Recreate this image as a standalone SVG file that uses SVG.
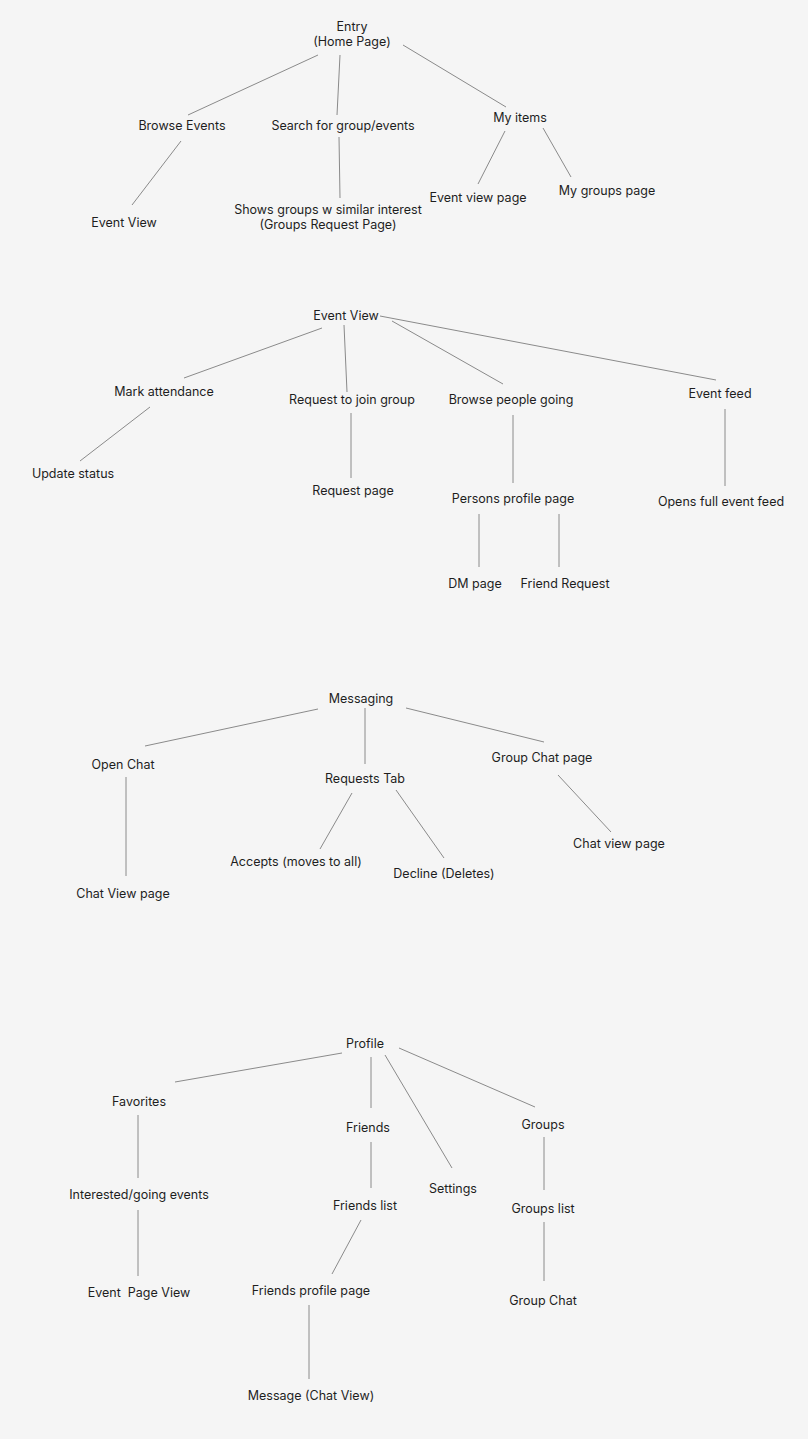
<svg xmlns="http://www.w3.org/2000/svg" width="808" height="1439" viewBox="0 0 808 1439">
<style>
text{font-family:Inter,"Liberation Sans",sans-serif;font-size:12.5px;fill:#1e1e1e;text-anchor:middle;white-space:pre}
line{stroke:#8a8a8a;stroke-width:1}
</style>
<rect width="808" height="1439" fill="#f5f5f5"/>
<g id="connectors">
<line x1="318" y1="55" x2="188" y2="115"/><line x1="340" y1="55" x2="337" y2="115"/><line x1="403" y1="45" x2="506" y2="107"/>
<line x1="181" y1="141" x2="132" y2="205"/><line x1="339" y1="137" x2="340" y2="198"/>
<line x1="505" y1="131" x2="478" y2="184"/><line x1="543" y1="128" x2="571" y2="177"/>
<line x1="322" y1="328" x2="184" y2="378"/><line x1="344" y1="325" x2="347" y2="392"/><line x1="392" y1="321" x2="503" y2="384"/><line x1="380" y1="316" x2="716" y2="380"/>
<line x1="150" y1="407" x2="80" y2="461"/><line x1="351" y1="413" x2="351" y2="478"/><line x1="513" y1="415" x2="513" y2="483"/>
<line x1="479" y1="514" x2="479" y2="567"/><line x1="559" y1="514" x2="559" y2="567"/><line x1="725" y1="409" x2="725" y2="486"/>
<line x1="318" y1="709" x2="145" y2="746"/><line x1="365" y1="708" x2="365" y2="764"/><line x1="406" y1="708" x2="544" y2="742"/>
<line x1="126" y1="777" x2="126" y2="876"/><line x1="352" y1="793" x2="320" y2="849"/><line x1="396" y1="790" x2="444" y2="858"/><line x1="558" y1="775" x2="611" y2="832"/>
<line x1="342" y1="1053" x2="175" y2="1082"/><line x1="371" y1="1057" x2="371" y2="1108"/><line x1="385" y1="1055" x2="452" y2="1168"/><line x1="399" y1="1048" x2="535" y2="1107"/>
<line x1="138" y1="1115" x2="138" y2="1178"/><line x1="138" y1="1210" x2="138" y2="1276"/><line x1="371" y1="1142" x2="371" y2="1188"/>
<line x1="361" y1="1220" x2="332" y2="1274"/><line x1="309" y1="1305" x2="309" y2="1379"/><line x1="544" y1="1137" x2="544" y2="1190"/><line x1="544" y1="1222" x2="544" y2="1281"/>
</g>
<g id="entry"><text x="352" y="31">Entry</text><text x="352" y="46">(Home Page)</text></g>
<g id="browse-events"><text x="182" y="130">Browse Events</text></g>
<g id="search"><text x="343" y="130">Search for group/events</text></g>
<g id="my-items"><text x="520" y="122">My items</text></g>
<g id="event-view-1"><text x="124" y="227">Event View</text></g>
<g id="shows-groups"><text x="328" y="214">Shows groups w similar interest</text><text x="328" y="229">(Groups Request Page)</text></g>
<g id="event-view-page"><text x="478" y="202">Event view page</text></g>
<g id="my-groups-page"><text x="607" y="195">My groups page</text></g>
<g id="event-view"><text x="346" y="320">Event View</text></g>
<g id="mark-attendance"><text x="164" y="396">Mark attendance</text></g>
<g id="request-join"><text x="352" y="404">Request to join group</text></g>
<g id="browse-people"><text x="511" y="404">Browse people going</text></g>
<g id="event-feed"><text x="720" y="398">Event feed</text></g>
<g id="update-status"><text x="73" y="478">Update status</text></g>
<g id="request-page"><text x="353" y="495">Request page</text></g>
<g id="persons-profile"><text x="513" y="503">Persons profile page</text></g>
<g id="dm-page"><text x="475" y="588">DM page</text></g>
<g id="friend-request"><text x="565" y="588">Friend Request</text></g>
<g id="opens-feed"><text x="721" y="506">Opens full event feed</text></g>
<g id="messaging"><text x="361" y="703">Messaging</text></g>
<g id="open-chat"><text x="123" y="769">Open Chat</text></g>
<g id="requests-tab"><text x="365" y="783">Requests Tab</text></g>
<g id="group-chat-page"><text x="542" y="762">Group Chat page</text></g>
<g id="chat-view-page-1"><text x="123" y="898">Chat View page</text></g>
<g id="accepts"><text x="296" y="866">Accepts (moves to all)</text></g>
<g id="decline"><text x="444" y="878">Decline (Deletes)</text></g>
<g id="chat-view-page-2"><text x="619" y="848">Chat view page</text></g>
<g id="profile"><text x="365" y="1048">Profile</text></g>
<g id="favorites"><text x="139" y="1106">Favorites</text></g>
<g id="friends"><text x="368" y="1132">Friends</text></g>
<g id="settings"><text x="453" y="1193">Settings</text></g>
<g id="groups"><text x="543" y="1129">Groups</text></g>
<g id="interested"><text x="139" y="1199">Interested/going events</text></g>
<g id="event-page-view"><text x="139" y="1297">Event  Page View</text></g>
<g id="friends-list"><text x="365" y="1210">Friends list</text></g>
<g id="friends-profile"><text x="311" y="1295">Friends profile page</text></g>
<g id="message-chat"><text x="311" y="1400">Message (Chat View)</text></g>
<g id="groups-list"><text x="543" y="1213">Groups list</text></g>
<g id="group-chat"><text x="543" y="1305">Group Chat</text></g>
</svg>
